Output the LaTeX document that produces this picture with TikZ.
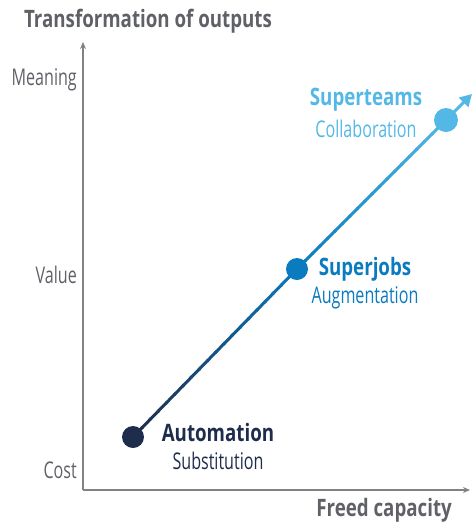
\documentclass[tikz,border=0pt]{standalone}
\usepackage{fontspec}
\setmainfont{Open Sans}[FakeStretch=0.70,BoldFeatures={FakeStretch=0.78}]
\usetikzlibrary{positioning,arrows.meta,calc}

\definecolor{navy}{HTML}{1F2D4D}
\definecolor{midblue}{HTML}{0A7BBF}
\definecolor{lightblue}{HTML}{53B8E6}
\definecolor{axisgray}{HTML}{808285}
\definecolor{textgray}{HTML}{5F6167}

\tikzset{
  axislabel/.style={anchor=east,text=textgray,font=\fontsize{23}{23}\selectfont,inner sep=0pt},
  axistitle/.style={text=textgray,font=\fontsize{24}{24}\selectfont\bfseries,inner sep=0pt},
  dot/.style={circle,fill,inner sep=0pt,minimum size=22pt},
  stagename/.style={font=\fontsize{24}{24}\selectfont\bfseries,inner sep=0pt},
  stagesub/.style={font=\fontsize{23}{23}\selectfont,inner sep=0pt}
}

\begin{document}
\begin{tikzpicture}[x=1pt,y=-1pt,>={Stealth[length=7pt,width=6pt]},
    node distance=29pt,on grid]
\useasboundingbox (0,0) rectangle (472,523);
% axes
\coordinate (origin) at (83,490);
\coordinate (ytop) at (83,42);
\coordinate (xend) at (470,490);
\draw[axisgray,line width=1.5pt,->] (origin) -- (ytop);
\draw[axisgray,line width=1.5pt,->] (origin) -- (xend);
\node[axistitle] (ytitle) at (148,21) {Transformation of outputs};
\node[axistitle,anchor=east] (xtitle) at (452,510) {Freed capacity};
\node[axislabel] (meaning) at (77,80) {Meaning};
\node[axislabel] (value) at (77,275) {Value};
\node[axislabel] (cost) at (77,470) {Cost};

% stages
\coordinate (pauto) at (133,437);
\coordinate (pjobs) at (297,269);
\coordinate (pteams) at (446,120);
\coordinate (tip) at (472,94);
\foreach \i in {0,...,19}{
  \pgfmathsetmacro\mix{5*\i}
  \draw[line width=3pt,color=midblue!\mix!navy]
    ($(pauto)!\i/20!(pjobs)$) -- ($(pauto)!\i/20+0.06!(pjobs)$);
  \draw[line width=3pt,color=lightblue!\mix!midblue]
    ($(pjobs)!\i/20!(pteams)$) -- ($(pjobs)!\i/20+0.06!(pteams)$);
}
\draw[line width=3pt,lightblue,-{Triangle[length=12pt,width=13pt]}] (pteams) -- (tip);
\node[dot,navy] (automation) at (pauto) {};
\node[dot,midblue] (superjobs) at (pjobs) {};
\node[dot,lightblue,minimum size=24pt] (superteams) at (pteams) {};

\node[stagename,navy] (autoname) at (218,432) {Automation};
\node[stagesub,navy] (autosub) [below=of autoname] {Substitution};
\node[stagename,midblue] (jobsname) at (365,269) {Superjobs};
\node[stagesub,midblue] (jobssub) [below=of jobsname] {Augmentation};
\node[stagename,lightblue] (teamsname) at (366,100) {Superteams};
\node[stagesub,lightblue] (teamssub) [below=of teamsname] {Collaboration};
\end{tikzpicture}
\end{document}
